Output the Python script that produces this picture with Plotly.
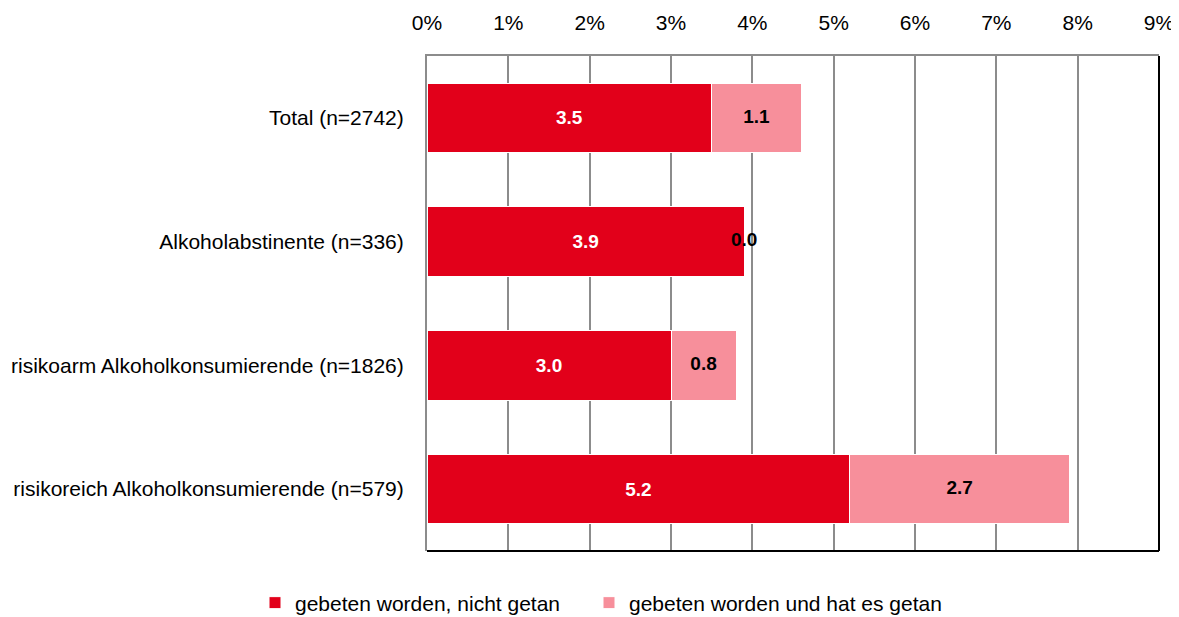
import plotly.graph_objects as go

categories = ["Total (n=2742)", "Alkoholabstinente (n=336)",
              "risikoarm Alkoholkonsumierende (n=1826)",
              "risikoreich Alkoholkonsumierende (n=579)"]
not_done = [3.5, 3.9, 3.0, 5.2]
done = [1.1, 0.0, 0.8, 2.7]
series_names = ["gebeten worden, nicht getan", "gebeten worden und hat es getan"]
tick_vals = list(range(0, 10))
tick_text = [f"{v}%" for v in tick_vals]

RED = "#E2001A"
PINK = "#F78F9B"
FONT = "Liberation Sans, Arial, sans-serif"
GRID = "#8C8C8C"

fig = go.Figure()
fig.add_trace(go.Bar(
    y=categories, x=not_done, orientation="h", name=series_names[0],
    marker=dict(color=RED, line=dict(color="white", width=1)),
    text=[f"{v:.1f}" for v in not_done], textposition="inside",
    insidetextanchor="middle",
    textfont=dict(color="white", size=19, family=FONT, weight="bold"),
    legend="legend",
))
fig.add_trace(go.Bar(
    y=categories, x=done, orientation="h", name=series_names[1],
    marker=dict(color=PINK, line=dict(color="white", width=1)),
    hoverinfo="x+y", legend="legend2",
))
# labels for the second series, centred on each segment
mid = [a + b / 2 for a, b in zip(not_done, done)]
fig.add_trace(go.Scatter(
    y=categories, x=mid, mode="text", text=[f"{v:.1f}" for v in done],
    textfont=dict(color="black", size=19, family=FONT, weight="bold"),
    showlegend=False, cliponaxis=False, hoverinfo="skip",
))

W = 1179
legend_common = dict(orientation="h", xref="container", xanchor="left",
                     yref="paper", y=-0.105, yanchor="middle",
                     font=dict(size=21), itemwidth=30)

fig.update_layout(
    barmode="stack", bargap=0.44,
    width=W, height=609,
    margin=dict(l=419, r=28, t=48, b=66, autoexpand=False),
    plot_bgcolor="white", paper_bgcolor="white",
    font=dict(family=FONT, size=21, color="black"),
    legend=dict(x=(255 - 8) / W, **legend_common),
    legend2=dict(x=(589 - 8) / W, **legend_common),
    showlegend=True,
)
fig.update_xaxes(
    side="top", range=[0, 9], tickvals=tick_vals, ticktext=tick_text,
    showgrid=True, gridcolor=GRID, gridwidth=1.5,
    showline=True, linecolor=GRID, linewidth=1.5,
    zeroline=False, ticks="", ticklabelstandoff=16, ticklabeloverflow="allow",
    tickfont=dict(size=21), automargin=False,
)
fig.update_yaxes(
    autorange="reversed", showline=True, linecolor=GRID, linewidth=2,
    ticks="", ticklabelstandoff=17, tickfont=dict(size=21),
    showgrid=False, automargin=False,
)
fig.add_shape(type="line", xref="paper", yref="paper", x0=0, x1=1, y0=0, y1=0,
              line=dict(color="black", width=2))
fig.add_shape(type="line", xref="paper", yref="paper", x0=1, x1=1, y0=0, y1=1,
              line=dict(color="black", width=2))

fig.write_html("out.html")
